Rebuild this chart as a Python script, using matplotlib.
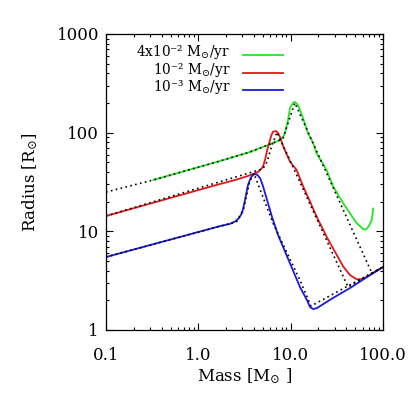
import matplotlib
matplotlib.use("Agg")
import matplotlib.pyplot as plt
from matplotlib.ticker import LogLocator, FixedLocator, FixedFormatter, NullFormatter

plt.rcParams['font.family'] = ['DejaVu Serif', 'DejaVu Sans']
plt.rcParams['mathtext.fontset'] = 'dejavuserif'

# ---- data (mass in Msun, radius in Rsun) ----
blue_m = [0.1, 1.72, 2.2, 2.5, 2.75, 2.97, 3.1, 3.2, 3.45, 3.7, 3.95, 4.11, 4.35, 4.66, 5.0, 5.27, 6.28, 7.3, 12.6, 15.0, 16.2, 17.5, 19.3, 28.7, 43.9, 67.1, 100]
blue_r = [5.49, 11.3, 11.9, 12.6, 13.6, 15.3, 18.0, 20.8, 29.5, 35.0, 37.8, 38.1, 37.3, 34.7, 29.0, 24.5, 14.0, 9.18, 2.73, 2.01, 1.71, 1.63, 1.67, 2.11, 2.66, 3.44, 4.35]

blue_dot_m = [0.1, 2.6, 3.1, 3.6, 4.0, 6.44, 12.6, 16.6, 100]
blue_dot_r = [5.49, 12.5, 17.0, 32.0, 38.5, 12.1, 3.2, 1.75, 4.35]

red_m = [0.1, 1.72, 2.5, 3.45, 4.43, 4.66, 5.0, 5.27, 5.6, 5.97, 6.2, 6.44, 6.94, 7.3, 7.67, 8.32, 9.84, 11.6, 13.7, 16.2, 19.1, 24.5, 31.6, 37.2, 43.9, 51.9, 61.2, 100]
red_r = [14.3, 30.2, 33.1, 36.4, 39.9, 41.8, 45.0, 52.8, 68.0, 84.3, 95.0, 102, 104, 99, 90.3, 72.1, 50.8, 41.8, 28.3, 20.0, 14.1, 8.83, 5.75, 4.38, 3.61, 3.26, 3.3, 4.35]

red_dot_m = [0.1, 5.0, 5.54, 6.28, 7.12, 41.8, 100]
red_dot_r = [14.3, 43.0, 50.4, 75.0, 101, 2.73, 4.35]

green_m = [0.323, 1.72, 3.63, 5.01, 6.44, 7.67, 8.2, 8.68, 9.36, 9.84, 10.6, 11.1, 12.0, 13.6, 15.4, 17.5, 19.1, 24.5, 29.0, 37.2, 43.9, 51.9, 61.2, 65.0, 69.4, 72.5, 75.5, 78.4]
green_r = [33.1, 51.6, 63.7, 71.6, 78.6, 84.3, 89.0, 99, 134, 178, 200, 205, 191, 141, 99, 78.6, 61.8, 41.8, 28.3, 19.2, 15.2, 12.1, 10.5, 10.4, 11.1, 12.0, 13.0, 17.1]

green_dot_m = [0.1, 0.323, 1.72, 3.63, 5.01, 6.44, 7.67, 8.26, 11.1, 76.0, 100]
green_dot_r = [25.0, 33.1, 51.6, 63.7, 71.6, 78.6, 84.3, 88.3, 200, 3.75, 4.35]

legend_labels = ['4x10\u207b\u00b2 M$_{\\odot}$/yr', '10\u207b\u00b2 M$_{\\odot}$/yr', '10\u207b\u00b3 M$_{\\odot}$/yr']
x_ticks = [0.1, 1.0, 10.0, 100.0]
x_ticklabels = ['0.1', '1.0', '10.0', '100.0']
y_ticks = [1, 10, 100, 1000]
y_ticklabels = ['1', '10', '100', '1000']

GREEN = '#22e622'
RED = '#e01818'
BLUE = '#1a1ae0'

fig = plt.figure(figsize=(4.15, 3.99), dpi=100)
ax = fig.add_axes([106/415, 1-330/399, 277/415, 296/399])

ax.plot(green_m, green_r, color=GREEN, lw=1.3, solid_capstyle='round', solid_joinstyle='round')
ax.plot(red_m, red_r, color=RED, lw=1.3, solid_capstyle='round', solid_joinstyle='round')
ax.plot(blue_m, blue_r, color=BLUE, lw=1.3, solid_capstyle='round', solid_joinstyle='round')
dot = dict(color='black', lw=1.2, linestyle=(0, (1, 2)))
ax.plot(green_dot_m, green_dot_r, **dot)
ax.plot(red_dot_m, red_dot_r, **dot)
ax.plot(blue_dot_m, blue_dot_r, **dot)

ax.set_xscale('log')
ax.set_yscale('log')
ax.set_xlim(0.1, 100)
ax.set_ylim(1, 1000)
ax.xaxis.set_major_locator(FixedLocator(x_ticks))
ax.xaxis.set_major_formatter(FixedFormatter(x_ticklabels))
ax.yaxis.set_major_locator(FixedLocator(y_ticks))
ax.yaxis.set_major_formatter(FixedFormatter(y_ticklabels))
ax.xaxis.set_minor_locator(LogLocator(base=10, subs=range(2, 10)))
ax.yaxis.set_minor_locator(LogLocator(base=10, subs=range(2, 10)))
ax.xaxis.set_minor_formatter(NullFormatter())
ax.yaxis.set_minor_formatter(NullFormatter())
ax.tick_params(which='both', direction='in', top=True, right=True, width=0.8, color='black')
ax.tick_params(which='major', length=5)
ax.tick_params(which='minor', length=2.5)
ax.tick_params(axis='x', which='major', pad=12, labelsize=12)
ax.tick_params(axis='y', which='major', pad=5, labelsize=12)
for s in ax.spines.values():
    s.set_linewidth(0.9)

ax.set_xlabel(r'Mass [M$_{\odot}$ ]', fontsize=12, labelpad=2)
ax.set_ylabel(r'Radius [R$_{\odot}$]', fontsize=12, labelpad=12)

# legend
colors = [GREEN, RED, BLUE]
rows = [0.938, 0.879, 0.820]
for lab, c, yy in zip(legend_labels, colors, rows):
    ax.text(0.448, yy, lab, transform=ax.transAxes, ha='right', va='center', fontsize=9.8)
    ax.plot([0.495, 0.639], [yy - 0.01, yy - 0.01], transform=ax.transAxes, color=c, lw=1.3)

fig.savefig('out.png', dpi=100)
